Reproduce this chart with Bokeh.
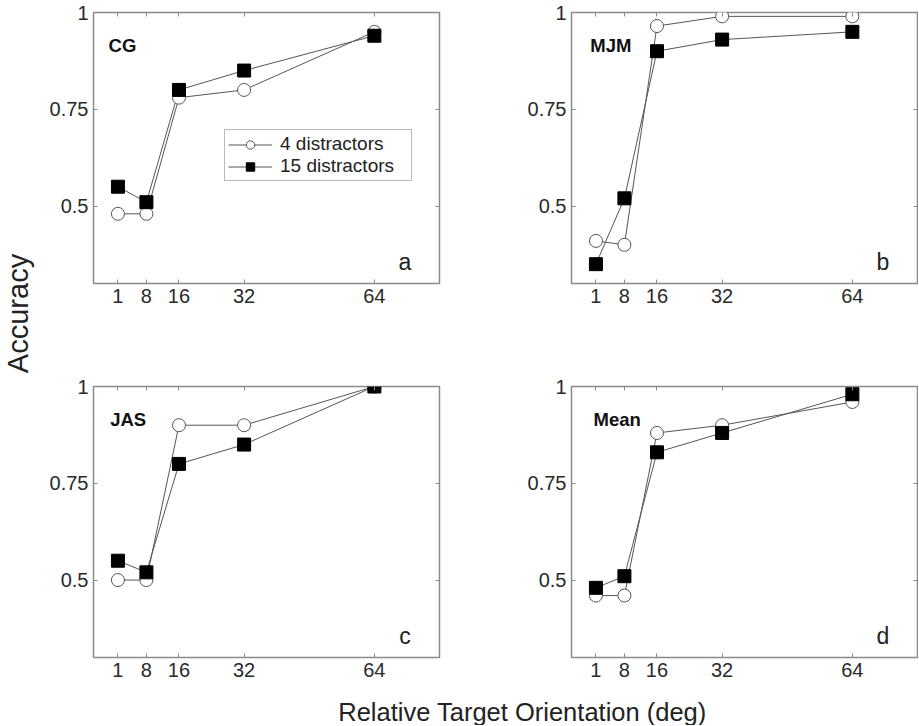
import math
from bokeh.plotting import figure
from bokeh.models import (Range1d, FixedTicker, CustomJSTickFormatter, LinearAxis,
                          Label, Legend, LegendItem, CustomLabelingPolicy)
from bokeh.layouts import row, column
from bokeh.embed import file_html
from bokeh.resources import INLINE

# ---------------- data ----------------
x_deg = [1, 8, 16, 32, 64]
x_ticks = [1, 8, 16, 32, 64]
y_ticks = [0.5, 0.75, 1.0]

cg_4 = [0.48, 0.48, 0.78, 0.80, 0.95]
cg_15 = [0.55, 0.51, 0.80, 0.85, 0.94]
mjm_4 = [0.41, 0.40, 0.965, 0.99, 0.99]
mjm_15 = [0.35, 0.52, 0.90, 0.93, 0.95]
jas_4 = [0.50, 0.50, 0.90, 0.90, 1.00]
jas_15 = [0.55, 0.52, 0.80, 0.85, 1.00]
mean_4 = [0.46, 0.46, 0.88, 0.90, 0.96]
mean_15 = [0.48, 0.51, 0.83, 0.88, 0.98]

series_labels = ["4 distractors", "15 distractors"]

FONT = "Liberation Sans"
FRAME_COL = "#8a8a8a"
LINE_COL = "#555555"
TICK_TXT = "#2a2a2a"

FW, FH = 346, 271


def style_axis(ax, labels=True, standoff=5):
    ax.axis_line_color = None
    ax.major_tick_in = 4
    ax.major_tick_out = 0
    ax.minor_tick_line_color = None
    ax.major_tick_line_color = FRAME_COL
    ax.major_tick_line_width = 1
    if labels:
        ax.major_label_text_font = FONT
        ax.major_label_text_font_size = "20px"
        ax.major_label_text_color = TICK_TXT
        ax.major_label_standoff = standoff
    else:
        ax.formatter = CustomJSTickFormatter(code="return '';")
        ax.major_label_policy = CustomLabelingPolicy(code="""
            try { for (const i of Array.from(indices)) indices.unset(i); } catch (e) {}
            return indices;
        """)
        ax.major_label_text_font_size = "1px"
        ax.major_label_standoff = 0


def panel(name, name_x, letter, y4, y15, bl, br, bt, bb, legend=False):
    p = figure(frame_width=FW, frame_height=FH,
               x_range=Range1d(-5, 80), y_range=Range1d(0.3, 1.0),
               output_backend="svg", toolbar_location=None,
               min_border_left=bl, min_border_right=br,
               min_border_top=bt, min_border_bottom=bb,
               background_fill_color="white", border_fill_color="white")
    p.grid.visible = False
    p.outline_line_color = FRAME_COL
    p.outline_line_width = 1.5

    fmt = CustomJSTickFormatter(code="return String(tick);")
    xb = p.xaxis[0]
    xb.ticker = FixedTicker(ticks=x_ticks)
    xb.formatter = fmt
    style_axis(xb, True, 5)
    yl = p.yaxis[0]
    yl.ticker = FixedTicker(ticks=y_ticks)
    yl.formatter = fmt
    style_axis(yl, True, 5)

    xt = LinearAxis(ticker=FixedTicker(ticks=x_ticks))
    style_axis(xt, False)
    p.add_layout(xt, "above")
    yr = LinearAxis(ticker=FixedTicker(ticks=y_ticks))
    style_axis(yr, False)
    p.add_layout(yr, "right")

    l4 = p.line(x_deg, y4, line_color=LINE_COL, line_width=1)
    l15 = p.line(x_deg, y15, line_color=LINE_COL, line_width=1)
    m4 = p.scatter(x_deg, y4, marker="circle", size=13,
                   fill_color="white", line_color=LINE_COL, line_width=1)
    m15 = p.scatter(x_deg, y15, marker="square", size=13,
                    fill_color="black", line_color="black", line_width=1)

    p.add_layout(Label(x=name_x, y=0.915, text=name, text_font=FONT,
                       text_font_size="18.5px", text_font_style="bold",
                       text_color="#111111", text_align="left",
                       text_baseline="middle"))
    p.add_layout(Label(x=71.5, y=0.355, text=letter, text_font=FONT,
                       text_font_size="23px", text_color="#222222",
                       text_align="center", text_baseline="alphabetic"))

    if legend:
        lg = Legend(items=[LegendItem(label=series_labels[0], renderers=[l4, m4]),
                           LegendItem(label=series_labels[1], renderers=[l15, m15])],
                    location=(131, 102),
                    label_text_font=FONT, label_text_font_size="19px",
                    label_text_color="#222222",
                    glyph_width=44, glyph_height=21, label_height=21,
                    label_width=128, label_standoff=8,
                    padding=3, spacing=0, margin=0,
                    border_line_color="#777777", border_line_width=1,
                    background_fill_color="white", background_fill_alpha=1)
        p.add_layout(lg)
    return p


YW = 36
fa = panel("CG", -1.3, "a", cg_4, cg_15, 93 - YW, 68, 12, 91, legend=True)
fb = panel("MJM", -0.4, "b", mjm_4, mjm_15, 64, 1, 12, 91)
fc = panel("JAS", -0.9, "c", jas_4, jas_15, 93 - YW, 68, 12, 31)
fd = panel("Mean", 0.4, "d", mean_4, mean_15, 64, 1, 12, 31)

TOTAL_H = 725
XL_H = 37

ylab = figure(width=YW, height=TOTAL_H, output_backend="svg", toolbar_location=None,
              x_range=Range1d(0, 1), y_range=Range1d(0, 1), min_border=0,
              x_axis_location=None, y_axis_location=None)
ylab.grid.visible = False
ylab.outline_line_color = None
ylab.add_layout(Label(x=17, y=TOTAL_H - 313, x_units="screen", y_units="screen",
                      text="Accuracy", angle=math.pi / 2, text_font=FONT,
                      text_font_size="29px", text_color="#222222",
                      text_align="center", text_baseline="middle"))

xlab = figure(width=918 - YW, height=XL_H, output_backend="svg", toolbar_location=None,
              x_range=Range1d(0, 1), y_range=Range1d(0, 1), min_border=0,
              x_axis_location=None, y_axis_location=None)
xlab.grid.visible = False
xlab.outline_line_color = None
xlab.add_layout(Label(x=522 - YW, y=XL_H - (711 - (TOTAL_H - XL_H)),
                      x_units="screen", y_units="screen",
                      text="Relative Target Orientation (deg)", text_font=FONT,
                      text_font_size="25.5px", text_color="#222222",
                      text_align="center", text_baseline="middle"))

layout = row(ylab, column(row(fa, fb), row(fc, fd), xlab))

open("out.html", "w").write(file_html(layout, INLINE))
